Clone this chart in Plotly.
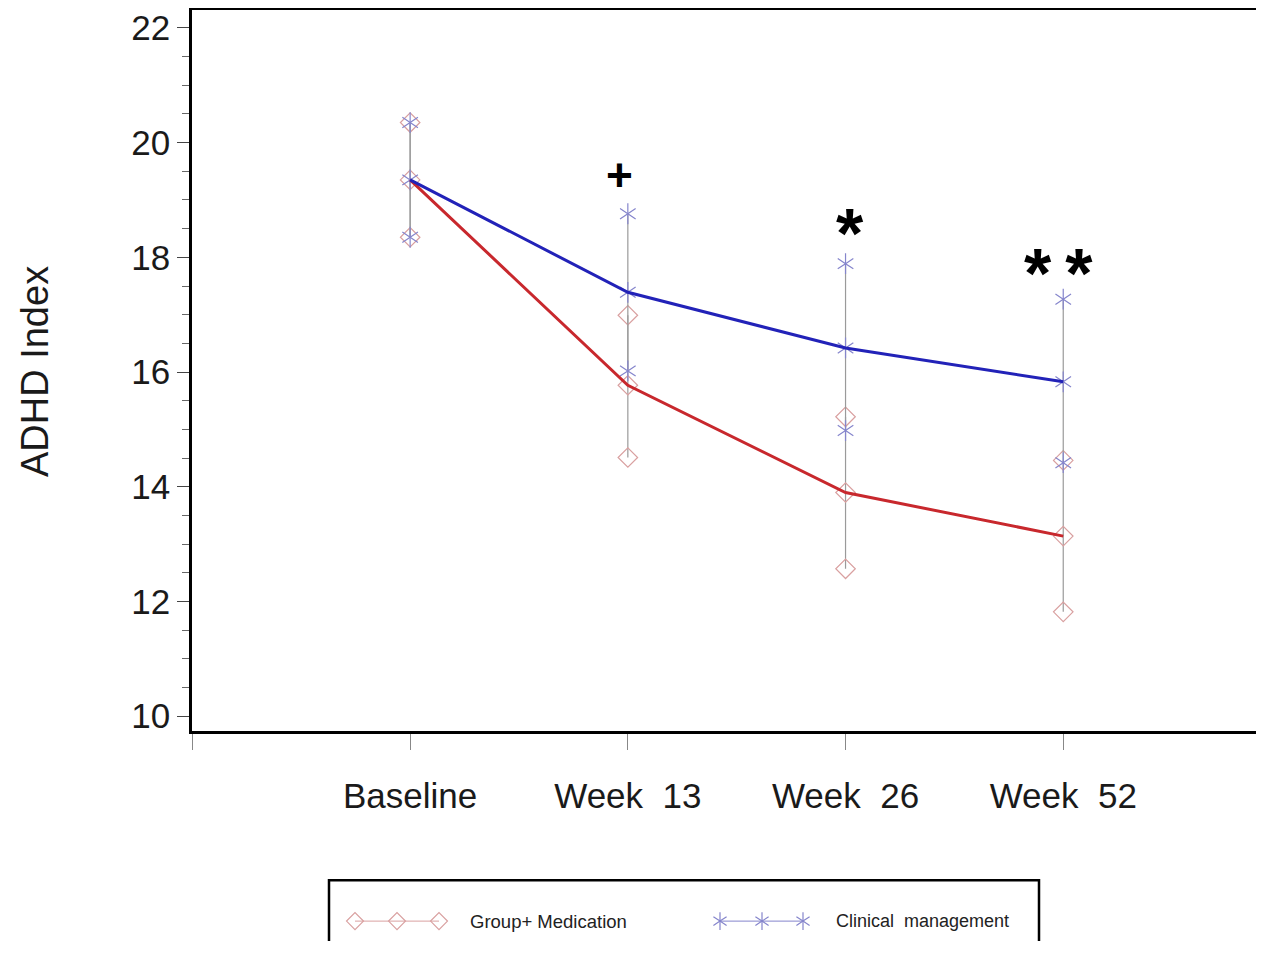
import plotly.graph_objects as go

# ---- data ----
categories = ["Baseline", "Week\u00a0\u00a013", "Week\u00a0\u00a026", "Week\u00a0\u00a052"]
x_pos = [1, 2, 3, 4]

group_med_mean = [19.35, 15.77, 13.90, 13.14]
group_med_upper = [20.35, 16.99, 15.22, 14.46]
group_med_lower = [18.35, 14.51, 12.57, 11.82]

clinical_mean = [19.35, 17.39, 16.42, 15.83]
clinical_upper = [20.35, 18.76, 17.89, 17.27]
clinical_lower = [18.35, 16.02, 14.98, 14.42]

sig_labels = ["+", "*", "*\u2009*"]
sig_x = [2, 3, 4]
sig_y = [19.43, 18.57, 17.87]

legend_names = ["Group+ Medication", "Clinical  management"]
y_title = "ADHD Index"

# ---- styles ----
RED_LINE = "#c8282d"
BLUE_LINE = "#2222b8"
RED_MK = "#d9a0a0"
BLUE_MK = "#8585cc"
BAR = "#9a9a9a"
FONT = "Liberation Sans, Arial, sans-serif"

OFF = 8  # page body margin
W, H = 1264 - OFF, 953 - 2 * OFF


def px(v):
    return v - OFF


# pixel geometry of main plot (page coords -> figure coords)
PL, PR, PT, PB = px(192), W, px(9.5), px(734)

fig = go.Figure()


def add_series(mean, upper, lower, mk_color, kind):
    plus = [u - m for u, m in zip(upper, mean)]
    minus = [m - l for m, l in zip(mean, lower)]
    fig.add_trace(go.Scatter(
        x=x_pos, y=mean, mode="markers",
        marker=dict(size=1, color="rgba(0,0,0,0)"),
        error_y=dict(type="data", array=plus, arrayminus=minus, symmetric=False,
                     width=0, thickness=1.2, color=BAR),
        showlegend=False, hoverinfo="skip"))
    ys = list(upper) + list(mean) + list(lower)
    xs = x_pos * 3
    if kind == "diamond":
        fig.add_trace(go.Scatter(
            x=xs, y=ys, mode="markers",
            marker=dict(symbol="diamond-open", size=15, color=mk_color,
                        line=dict(width=1.2, color=mk_color)),
            showlegend=False, hoverinfo="skip"))
    else:
        for sym in ["y-up-open", "y-down-open"]:
            fig.add_trace(go.Scatter(
                x=xs, y=ys, mode="markers",
                marker=dict(symbol=sym, size=13, color=mk_color,
                            line=dict(width=1.2, color=mk_color)),
                showlegend=False, hoverinfo="skip"))


add_series(group_med_mean, group_med_upper, group_med_lower, RED_MK, "diamond")
add_series(clinical_mean, clinical_upper, clinical_lower, BLUE_MK, "star")

fig.add_trace(go.Scatter(x=x_pos, y=group_med_mean, mode="lines",
                         line=dict(color=RED_LINE, width=3), showlegend=False))
fig.add_trace(go.Scatter(x=x_pos, y=clinical_mean, mode="lines",
                         line=dict(color=BLUE_LINE, width=3), showlegend=False))

# significance markers
shifts = [-8, 4, -5]
sizes = [46, 70, 70]
yshifts = [0, -9, -9]
for lab, sx, sy, sh, sz, ysh in zip(sig_labels, sig_x, sig_y, shifts, sizes, yshifts):
    fig.add_annotation(x=sx, y=sy, xref="x", yref="y", text=f"<b>{lab}</b>",
                       showarrow=False, xshift=sh, yshift=ysh,
                       font=dict(family="Liberation Sans, Arial", size=sz, color="black"))

# ---- overlay pixel axes (for y title and manual legend) ----
LEG_Y = px(925)
leg_keys_red = [px(355), px(397), px(439)]
leg_keys_blue = [px(720), px(762), px(803)]
fig.add_trace(go.Scatter(
    x=leg_keys_red, y=[LEG_Y] * 3, xaxis="x2", yaxis="y2", mode="lines+markers",
    line=dict(color=RED_MK, width=1),
    marker=dict(symbol="diamond-open", size=13, color=RED_MK, line=dict(width=1.2, color=RED_MK)),
    showlegend=False, hoverinfo="skip"))
fig.add_trace(go.Scatter(
    x=leg_keys_blue, y=[LEG_Y] * 3, xaxis="x2", yaxis="y2", mode="lines",
    line=dict(color=BLUE_MK, width=1), showlegend=False, hoverinfo="skip"))
for sym in ["y-up-open", "y-down-open"]:
    fig.add_trace(go.Scatter(
        x=leg_keys_blue, y=[LEG_Y] * 3, xaxis="x2", yaxis="y2", mode="markers",
        marker=dict(symbol=sym, size=11, color=BLUE_MK, line=dict(width=1.2, color=BLUE_MK)),
        showlegend=False, hoverinfo="skip"))
fig.add_annotation(x=px(468), y=LEG_Y, xref="x2", yref="y2", text=legend_names[0],
                   xanchor="left", showarrow=False,
                   font=dict(family=FONT, size=18.5, color="#222"))
fig.add_annotation(x=px(834), y=LEG_Y, xref="x2", yref="y2",
                   text=legend_names[1].replace("  ", "\u00a0\u00a0"),
                   xanchor="left", showarrow=False,
                   font=dict(family=FONT, size=18, color="#222"))
fig.add_shape(type="rect", xref="x2", yref="y2", x0=px(329), x1=px(1039), y0=px(884), y1=H + 20,
              line=dict(color="black", width=2.5), fillcolor="rgba(0,0,0,0)")
fig.add_annotation(x=px(35), y=px(373), xref="x2", yref="y2", text=y_title, textangle=-90,
                   showarrow=False, font=dict(family=FONT, size=38, color="#1a1a1a"))

# x range mapping: 1 unit ~ 217.7 px, x=0 at left frame
unit = 217.7
xr = [-0.002, (PR - PL) / unit - 0.002]
# y range mapping: 22 at page y=27, 10 at page y=719
ppu = (719 - 27) / 12
yr = [10 - (PB - px(719)) / ppu, 22 + (px(27) - PT) / ppu]

fig.update_layout(
    width=W, height=H,
    margin=dict(l=0, r=0, t=0, b=0),
    paper_bgcolor="white", plot_bgcolor="rgba(0,0,0,0)",
    showlegend=False,
    xaxis=dict(domain=[PL / W, 1], range=xr, tickmode="array",
               tickvals=[0] + x_pos, ticktext=[""] + categories,
               ticks="outside", ticklen=16, tickcolor="#888", tickwidth=1,
               ticklabelstandoff=16,
               showline=True, linecolor="black", linewidth=2.5, mirror=True,
               showgrid=False, zeroline=False,
               tickfont=dict(family=FONT, size=35, color="#1a1a1a")),
    yaxis=dict(domain=[(H - PB) / H, (H - PT) / H], range=yr,
               tickmode="linear", tick0=10, dtick=2,
               ticks="outside", ticklen=12, tickcolor="#444", tickwidth=1,
               minor=dict(dtick=0.5, ticks="outside", ticklen=7, tickcolor="#666", tickwidth=1),
               showline=True, linecolor="black", linewidth=2.5,
               showgrid=False, zeroline=False,
               tickfont=dict(family=FONT, size=35, color="#1a1a1a")),
    xaxis2=dict(domain=[0, 1], range=[0, W], visible=False, anchor="y2", fixedrange=True),
    yaxis2=dict(domain=[0, 1], range=[H, 0], visible=False, anchor="x2", fixedrange=True),
)

fig.write_html("out.html")
